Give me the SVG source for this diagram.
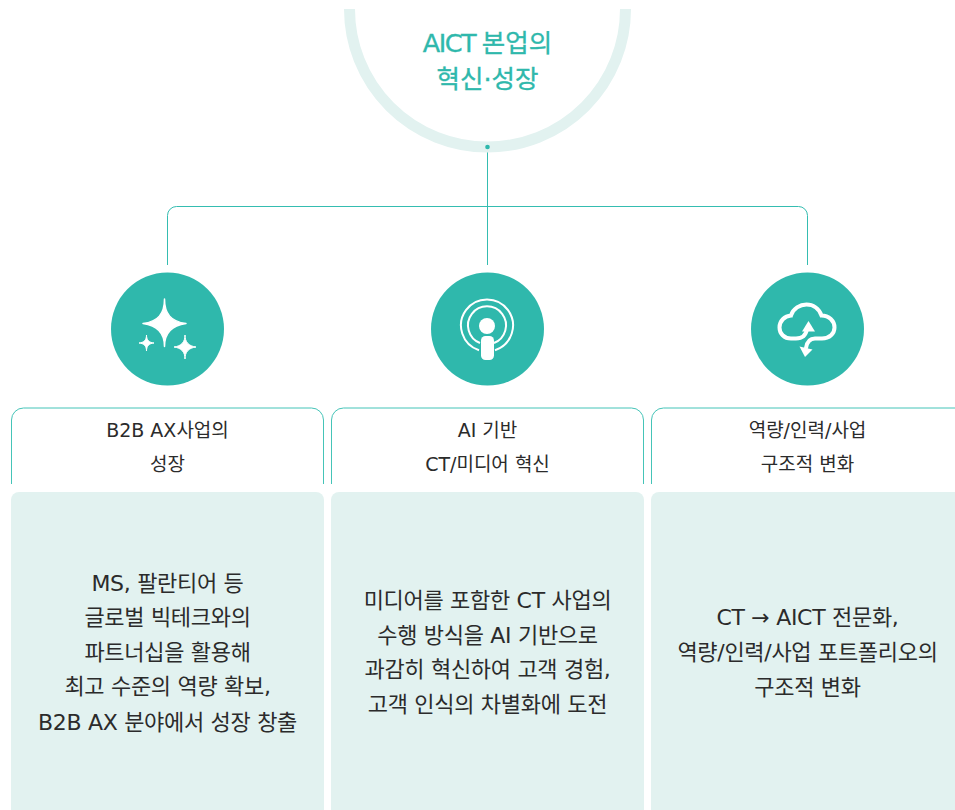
<svg xmlns="http://www.w3.org/2000/svg" width="955" height="810" viewBox="0 0 955 810">
<style>
text{font-family:"DejaVu Sans","Noto Sans CJK KR",sans-serif;text-anchor:middle}
.h{font-size:19px;fill:#2b2b2b}
.b{font-size:22px;fill:#2b2b2b;letter-spacing:-.3px}
.t{font-size:25.500px;fill:#2fb8ac;stroke:#2fb8ac;stroke-width:.35}
.c{fill:#2fb8ac}
.ln{fill:none;stroke:#35bdb1;stroke-width:1}
.hd{fill:none;stroke:#45c4b8;stroke-width:1}
.bx{fill:#e2f2f0}
.w{fill:#fff}
.ws{fill:none;stroke:#fff}
</style>
<rect width="955" height="810" fill="#fff"/>
<g id="connectors">
<path class="ln" d="M487.5 147V265M167.5 265V215.500a9 9 0 0 1 9-9H798.500a9 9 0 0 1 9 9V265"/>
</g>
<g id="root">
<path d="M349.500 9A138 138 0 0 0 625.500 9" fill="none" stroke="#e2f2f0" stroke-width="11"/>
<circle class="c" cx="487.500" cy="147" r="2.300"/>
<text class="t" x="487.500" y="52"><tspan letter-spacing="-1.500">AICT </tspan>본업의</text>
<text class="t" x="487.500" y="88">혁신·성장</text>
</g>
<g id="node1">
<circle class="c" cx="167.500" cy="329" r="56.500"/>
<path class="w" d="M164.500 299C164.500 314 158 321.500 143 323.500C158 325.500 164.500 333 164.500 346.500C164.500 333 171 325.500 186 323.500C171 321.500 164.500 314 164.500 299Z" stroke="#fff" stroke-width="1.500" stroke-linejoin="round"/>
<path class="w" d="M146.500 335C146.500 340 144 342.500 139 343C144 343.500 146.500 346 146.500 351C146.500 346 149 343.500 154 343C149 342.500 146.500 340 146.500 335Z" stroke="#fff" stroke-width="1" stroke-linejoin="round"/>
<path class="w" d="M185 335C185 342 181.500 346 174 347C181.500 348 185 352 185 359C185 352 188.500 348 196 347C188.500 346 185 342 185 335Z" stroke="#fff" stroke-width="1" stroke-linejoin="round"/>
<path class="hd" d="M11.500 484V420a12 12 0 0 1 12-12H311.500a12 12 0 0 1 12 12V484"/>
<text class="h" x="167.500" y="437">B2B AX사업의</text>
<text class="h" x="167.500" y="471">성장</text>
<path class="bx" d="M11 500a8 8 0 0 1 8-8H316a8 8 0 0 1 8 8V810H11Z"/>
<text class="b" x="167.500" y="591">MS, 팔란티어 등</text>
<text class="b" x="167.500" y="625">글로벌 빅테크와의</text>
<text class="b" x="167.500" y="660">파트너십을 활용해</text>
<text class="b" x="167.500" y="694">최고 수준의 역량 확보,</text>
<text class="b" x="167.500" y="730">B2B AX 분야에서 성장 창출</text>
</g>
<g id="node2">
<circle class="c" cx="487.500" cy="329" r="56.500"/>
<path class="ws" stroke-width="2" d="M479 350.200A26 26 0 1 1 495 350.200"/>
<path class="ws" stroke-width="2" d="M480 343A19 19 0 1 1 494 343"/>
<circle class="w" cx="487" cy="326" r="8"/>
<rect class="w" x="481" y="336" width="13" height="24" rx="4.500"/>
<path class="hd" d="M331.500 484V420a12 12 0 0 1 12-12H631.500a12 12 0 0 1 12 12V484"/>
<text class="h" x="487.500" y="437">AI 기반</text>
<text class="h" x="487.500" y="471">CT/미디어 혁신</text>
<path class="bx" d="M331 500a8 8 0 0 1 8-8H636a8 8 0 0 1 8 8V810H331Z"/>
<text class="b" x="487.500" y="608">미디어를 포함한 CT 사업의</text>
<text class="b" x="487.500" y="643">수행 방식을 AI 기반으로</text>
<text class="b" x="487.500" y="677">과감히 혁신하여 고객 경험,</text>
<text class="b" x="487.500" y="712">고객 인식의 차별화에 도전</text>
</g>
<g id="node3">
<circle class="c" cx="807.500" cy="329" r="56.500"/>
<path class="ws" stroke-width="4" stroke-linecap="round" d="M807 329C806 335 802 338.500 796 338.500H791C784 338.500 779.500 333.500 779.500 327.500C779.500 321 784.500 316 791 315.500C793 308.500 800 304.500 806.500 304.500C813 304.500 819 308.500 821.500 315.500C829 315.500 834.500 321 834.500 327.500C834.500 333.500 829.500 338.500 822 338.500H815C810 338.500 807 341.500 806 348"/>
<path class="w" d="M802 331.500L808.500 321L815 331.500Z"/>
<path class="w" d="M799.500 346.500L812.500 349.500L805 357Z"/>
<path class="hd" d="M651.500 484V420a12 12 0 0 1 12-12H955"/>
<text class="h" x="807.500" y="437">역량/인력/사업</text>
<text class="h" x="807.500" y="471">구조적 변화</text>
<path class="bx" d="M651 500a8 8 0 0 1 8-8H955V810H651Z"/>
<text class="b" x="807.500" y="625">CT → AICT 전문화,</text>
<text class="b" x="807.500" y="660">역량/인력/사업 포트폴리오의</text>
<text class="b" x="807.500" y="695">구조적 변화</text>
</g>
</svg>
